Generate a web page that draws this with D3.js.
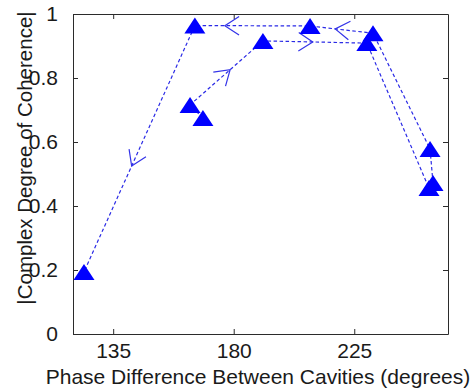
<!DOCTYPE html>
<html>
  <head>
    <meta charset="utf-8">
    <title>Coherence vs phase</title>
    <script src="https://cdn.jsdelivr.net/npm/d3@7"></script>
<style>
body { margin: 0; background: #fff; }
svg text { font-family: "Liberation Sans", Arial, sans-serif; fill: #1a1a1a; }
.axis path, .axis line { stroke: #2b2b2b; stroke-width: 1; }
.sweep { fill: none; stroke: #2a2ae6; stroke-width: 1.2; stroke-dasharray: 3.5,2.5; }
.arrow { fill: none; stroke: #3333e8; stroke-width: 1.2; }
.marker { fill: #0000ff; }
</style>
  </head>
  <body>
    <script>

// measured points, in the order the sweep was taken
var phase     = [168.5, 163.7, 190.9, 229.7, 252.9, 254.4, 253.3, 232.0, 208.5, 165.5, 124.1];
var coherence = [0.675, 0.716, 0.916, 0.909, 0.456, 0.472, 0.578, 0.940, 0.9625, 0.964, 0.194];

// arrows: segment index (i -> i+1) and position along it
var arrowSeg = [1, 2, 7, 8, 9];
var arrowPos = [0.55, 0.48, 0.60, 0.74, 0.57];

var xTicks = [135, 180, 225];
var yTicks = [0, 0.2, 0.4, 0.6, 0.8, 1];

var W = 474, H = 391;
// plot box (window.top is read-only, so don't use "top" as a name)
var box = { l: 73, r: 448, t: 14, b: 334 };

var svg = d3.select("body").append("svg")
            .attr("width", W)
            .attr("height", H);

var x = d3.scaleLinear().domain([120, 260]).range([box.l, box.r]);
var y = d3.scaleLinear().domain([0, 1]).range([box.b, box.t]);

var pts = phase.map(function(p, i) { return [x(p), y(coherence[i])]; });

// dashed sweep line
svg.append("path")
   .attr("class", "sweep")
   .attr("d", d3.line()(pts));

// open arrow heads showing direction
var armLen = 17, armAng = 33 * Math.PI / 180;
arrowSeg.forEach(function(s, k) {
    var a = pts[s], b = pts[s + 1], t = arrowPos[k];
    var tx = a[0] + (b[0] - a[0]) * t, ty = a[1] + (b[1] - a[1]) * t;
    var back = Math.atan2(a[1] - b[1], a[0] - b[0]);
    var p1 = [tx + armLen * Math.cos(back + armAng), ty + armLen * Math.sin(back + armAng)];
    var p2 = [tx + armLen * Math.cos(back - armAng), ty + armLen * Math.sin(back - armAng)];
    svg.append("path")
       .attr("class", "arrow")
       .attr("d", "M" + p1 + "L" + tx + "," + ty + "L" + p2);
});

// triangle markers
var tw = 21, th = 16;
svg.selectAll(".marker")
   .data(pts)
   .enter()
   .append("path")
   .attr("class", "marker")
   .attr("d", function(d) {
       return "M" + d[0] + "," + (d[1] - th / 2) +
              "L" + (d[0] + tw / 2) + "," + (d[1] + th / 2) +
              "L" + (d[0] - tw / 2) + "," + (d[1] + th / 2) + "Z";
   });

// box axes, ticks pointing in
svg.append("g")
   .attr("class", "axis")
   .attr("transform", "translate(0," + box.b + ")")
   .call(d3.axisBottom(x).tickValues(xTicks).tickSizeInner(-5).tickSizeOuter(0).tickPadding(9))
   .selectAll("text").style("font-size", "21px");

svg.append("g")
   .attr("class", "axis")
   .attr("transform", "translate(0," + box.t + ")")
   .call(d3.axisTop(x).tickValues(xTicks).tickSizeInner(-5).tickSizeOuter(0).tickFormat(""));

svg.append("g")
   .attr("class", "axis")
   .attr("transform", "translate(" + box.l + ",0)")
   .call(d3.axisLeft(y).tickValues(yTicks).tickSizeInner(-5).tickSizeOuter(0).tickPadding(15)
           .tickFormat(d3.format("~g")))
   .selectAll("text").style("font-size", "21px");

svg.append("g")
   .attr("class", "axis")
   .attr("transform", "translate(" + box.r + ",0)")
   .call(d3.axisRight(y).tickValues(yTicks).tickSizeInner(-5).tickSizeOuter(0).tickFormat(""));

svg.selectAll(".axis text").attr("fill", "#1a1a1a");
svg.selectAll(".axis").attr("font-family", null);

// axis titles
svg.append("text")
   .attr("x", 258)
   .attr("y", 384)
   .attr("text-anchor", "middle")
   .style("font-size", "21px")
   .text("Phase Difference Between Cavities (degrees)");

svg.append("text")
   .attr("transform", "translate(32,158) rotate(-90)")
   .attr("text-anchor", "middle")
   .style("font-size", "20.5px")
   .text("|Complex Degree of Coherence|");

    </script>
  </body>
</html>
